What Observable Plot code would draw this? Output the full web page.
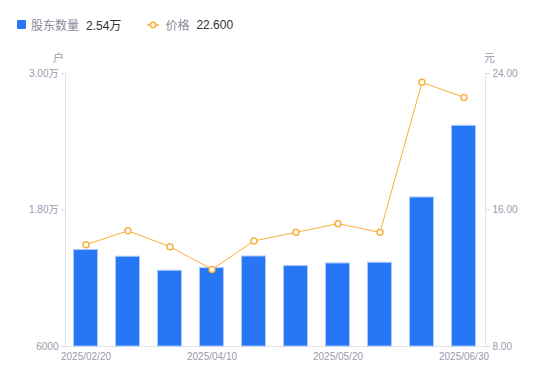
<!DOCTYPE html>
<html><head><meta charset="utf-8">
<script src="https://cdn.jsdelivr.net/npm/d3@7"></script>
<script src="https://cdn.jsdelivr.net/npm/@observablehq/plot@0.6"></script>
<style>
body{margin:0;background:#fff;font-family:"Liberation Sans","Noto Sans CJK SC",sans-serif;}
#wrap{position:relative;width:550px;height:381px;}
#legend{position:absolute;left:17px;top:16px;font-size:12px;display:flex;align-items:center;white-space:nowrap;z-index:2;}
.sw{display:inline-block;width:9px;height:9px;background:#2776f6;border-radius:1px;margin-right:5px;}
.lg{color:#8a8a99;margin-right:7px;}
.lv{color:#333;}
.unit{position:absolute;top:49px;font-size:11px;color:#9a9aae;z-index:2;}
#chart{position:absolute;left:0;top:40px;z-index:1;}
</style></head>
<body><div id="wrap">
<div id="legend"><span class="sw"></span><span class="lg">股东数量</span><span class="lv">2.54万</span>
<svg width="12" height="10" style="margin-left:26px;margin-right:6px"><line x1="0" y1="5" x2="12" y2="5" stroke="#f9b13a" stroke-width="1.5"/><circle cx="6" cy="5" r="2.7" fill="#fff" stroke="#f9b13a" stroke-width="1.5"/></svg><span class="lg">价格</span><span class="lv">22.600</span></div>
<div class="unit" style="left:53px">户</div>
<div class="unit" style="left:484px">元</div>
<div id="chart"></div>
</div>
<script>
const dates = ["2025/02/20","2025/03/10","2025/03/20","2025/04/10","2025/04/20","2025/04/30","2025/05/20","2025/06/10","2025/06/20","2025/06/30"];
const holders = [14480, 13890, 12660, 12890, 13910, 13070, 13300, 13360, 19100, 25400];
const prices = [13.97, 14.78, 13.85, 12.52, 14.19, 14.69, 15.20, 14.69, 23.48, 22.60];
const leftTicks = [6000, 18000, 30000];
const rightTicks = [8, 16, 24];

const yMin = 6000, yMax = 30000, pMin = 8, pMax = 24;
const toY = p => yMin + (p - pMin) / (pMax - pMin) * (yMax - yMin);
const rows = dates.map((d, i) => ({date: d, holders: holders[i], price: prices[i], py: toY(prices[i])}));
const labeled = new Set([dates[0], dates[3], dates[6], dates[9]]);
const fmtL = v => v >= 10000 ? (v / 10000).toFixed(2) + "万" : String(v);

const plot = Plot.plot({
  width: 550, height: 341,
  marginTop: 33, marginBottom: 35, marginLeft: 65, marginRight: 65,
  style: {fontFamily: "'Liberation Sans','Noto Sans CJK SC',sans-serif", fontSize: "10px", color: "#9a9aae", background: "#fff"},
  x: {domain: dates, paddingInner: 0.4, paddingOuter: 0.2, align: 0.5, axis: null},
  y: {domain: [yMin, yMax], axis: null},
  marks: [
    Plot.ruleY([yMin], {stroke: "#e3e3ea"}),
    Plot.barY(rows, {x: "date", y1: yMin, y2: "holders", fill: "#2776f6", stroke: "#a9c8fb", strokeWidth: 1, insetLeft: 0.5, insetRight: 0.5}),
    Plot.line(rows, {x: "date", y: "py", stroke: "#f9b13a", strokeWidth: 1}),
    Plot.dot(rows, {x: "date", y: "py", r: 3, fill: "#fff", stroke: "#f9b13a", strokeWidth: 1.5}),
    Plot.axisY({anchor: "left", ticks: leftTicks, tickFormat: fmtL, tickSize: 4, tickPadding: 3, stroke: "#d9d9e0", fill: "#9a9aae", label: null}),
    Plot.axisY({anchor: "right", ticks: rightTicks.map(toY), tickFormat: (v, i) => rightTicks[i].toFixed(2), tickSize: 4, tickPadding: 3, stroke: "#d9d9e0", fill: "#9a9aae", label: null}),
    Plot.axisX({ticks: dates.filter(d => labeled.has(d)), tickSize: 0, tickPadding: 6, fill: "#9a9aae", label: null}),
    Plot.frame({anchor: "left", stroke: "#e3e3ea"}),
    Plot.frame({anchor: "right", stroke: "#e3e3ea"})
  ]
});
document.getElementById("chart").appendChild(plot);
</script>
</body></html>
